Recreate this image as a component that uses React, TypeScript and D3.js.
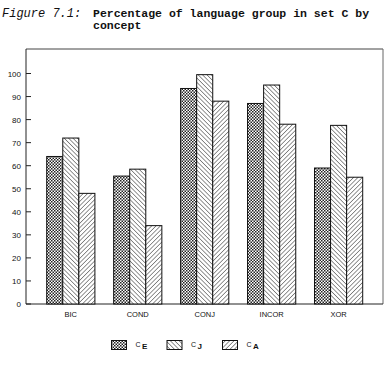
import React from "react";
import * as d3 from "d3";

const categories = ["BIC", "COND", "CONJ", "INCOR", "XOR"];
const seriesKeys = ["CE", "CJ", "CA"];
const seriesSub = ["E", "J", "A"];
const valuesCE = [64, 55.5, 93.5, 87, 59];
const valuesCJ = [72, 58.5, 99.5, 95, 77.5];
const valuesCA = [48, 34, 88, 78, 55];
const yTicks = [0, 10, 20, 30, 40, 50, 60, 70, 80, 90, 100];

const seriesValues = [valuesCE, valuesCJ, valuesCA];
const fills = ["url(#pCheck)", "url(#pBack)", "url(#pFwd)"];

export default function App() {
  const W = 389, H = 370;
  const frameL = 26, frameR = 383, frameT = 49;
  const y = d3.scaleLinear().domain([0, 100]).range([304, 73.5]);
  const x = d3.scaleBand().domain(categories).range([46.7, 362.7]).paddingInner(0.28).paddingOuter(0);
  const xs = d3.scaleBand().domain(seriesKeys).range([0, x.bandwidth()]);
  const sans = "Liberation Sans, Arial, sans-serif";
  const mono = "Liberation Mono, Courier New, monospace";
  const legendX = [111.5, 167, 222.5];
  return (
    <svg width={W} height={H} style={{ position: "absolute", left: 0, top: 0, background: "#fff" }}>
      <defs>
        <pattern id="pCheck" width={3} height={3} patternUnits="userSpaceOnUse">
          <rect width={3} height={3} fill="#fff" />
          <rect x={0} y={0} width={1.5} height={1.5} fill="#222" />
          <rect x={1.5} y={1.5} width={1.5} height={1.5} fill="#222" />
        </pattern>
        <pattern id="pBack" width={3.1} height={3.1} patternUnits="userSpaceOnUse" patternTransform="rotate(-45)">
          <rect width={3.1} height={3.1} fill="#fff" />
          <line x1={0} y1={0} x2={0} y2={3.1} stroke="#111" strokeWidth={0.9} />
        </pattern>
        <pattern id="pFwd" width={3.1} height={3.1} patternUnits="userSpaceOnUse" patternTransform="rotate(45)">
          <rect width={3.1} height={3.1} fill="#fff" />
          <line x1={0} y1={0} x2={0} y2={3.1} stroke="#111" strokeWidth={0.9} />
        </pattern>
      </defs>
      <rect width={W} height={H} fill="#fff" />
      <text x={2} y={17} fontFamily={mono} fontSize={12} fontStyle="italic" fill="#111">Figure 7.1:</text>
      <text x={93} y={17} fontFamily={mono} fontSize={11.5} fontWeight="bold" fill="#111">Percentage of language group in set C by</text>
      <text x={93} y={29} fontFamily={mono} fontSize={11.5} fontWeight="bold" fill="#111">concept</text>

      <line x1={frameL} x2={frameR} y1={frameT} y2={frameT} stroke="#444" strokeWidth={1} />
      <line x1={frameR} x2={frameR} y1={frameT} y2={y(0)} stroke="#666" strokeWidth={1} />
      <line x1={frameL} x2={frameL} y1={frameT} y2={y(0)} stroke="#222" strokeWidth={1} />
      <line x1={frameL} x2={frameR} y1={y(0)} y2={y(0)} stroke="#222" strokeWidth={1} />

      {yTicks.map((t) => (
        <g key={t}>
          <line x1={frameL} x2={frameL + 5} y1={y(t)} y2={y(t)} stroke="#222" strokeWidth={1} />
          <text x={21} y={y(t) + 3} textAnchor="end" fontFamily={sans} fontSize={8} fill="#111">{t}</text>
        </g>
      ))}

      {categories.map((c, i) => (
        <g key={c}>
          {seriesKeys.map((s, j) => {
            const v = seriesValues[j][i];
            const bx = (x(c) ?? 0) + (xs(s) ?? 0);
            return (
              <rect key={s} x={bx} y={y(v)} width={xs.bandwidth()} height={y(0) - y(v)}
                fill={fills[j]} stroke="#111" strokeWidth={1} />
            );
          })}
          <text x={(x(c) ?? 0) + x.bandwidth() / 2} y={317} textAnchor="middle" fontFamily={sans} fontSize={7.5} fill="#111">{c}</text>
        </g>
      ))}

      {seriesKeys.map((s, j) => (
        <g key={s}>
          <rect x={legendX[j]} y={340.5} width={15} height={9} fill={fills[j]} stroke="#111" strokeWidth={1} />
          <text x={legendX[j] + 24} y={346.5} fontFamily={sans} fontSize={7} fill="#111">
            C
            <tspan dx={1.5} dy={2.5} fontSize={8} fontWeight="bold">{seriesSub[j]}</tspan>
          </text>
        </g>
      ))}
    </svg>
  );
}
